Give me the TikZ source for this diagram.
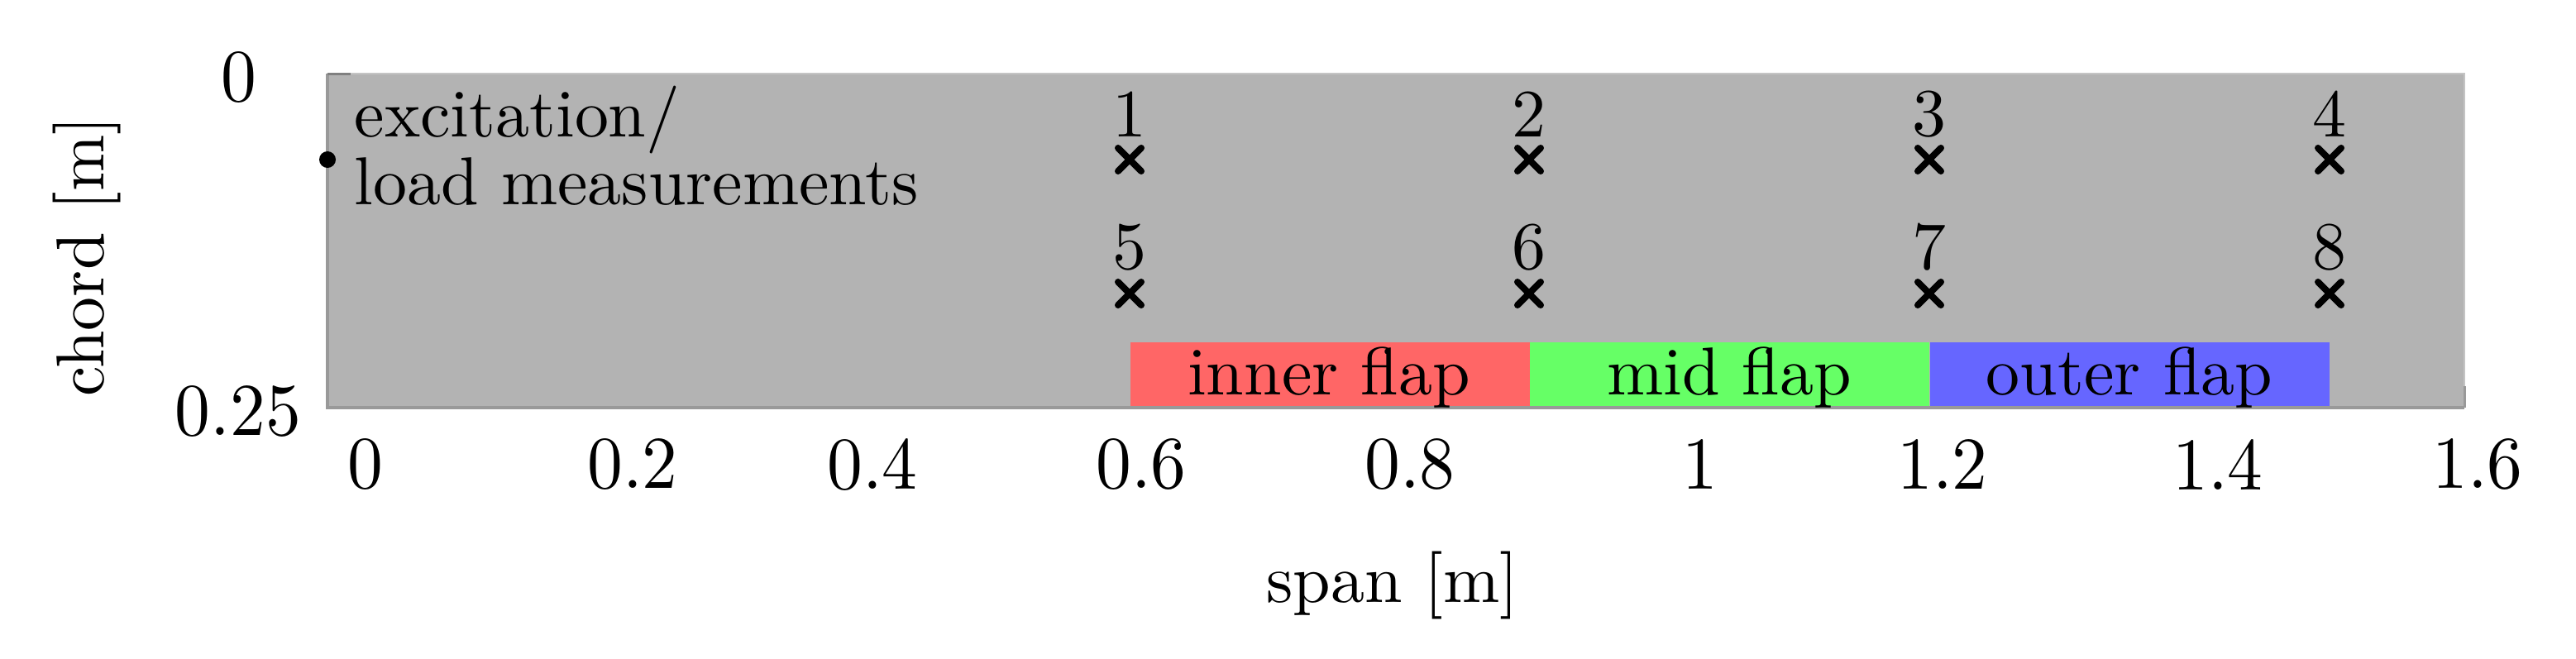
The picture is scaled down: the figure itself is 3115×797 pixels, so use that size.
\documentclass[tikz,border=0pt]{standalone}
\usepackage{fontspec}
\setmainfont{lmroman10-regular.otf}
\usepackage{graphicx}
\usetikzlibrary{shapes.misc}
\newcommand\cnd[1]{\scalebox{1}[1]{#1}}
\newcommand\cndt[1]{\scalebox{0.95}[1]{#1}}
\definecolor{wing}{HTML}{B3B3B3}
\definecolor{wingedge}{HTML}{999999}
\definecolor{wingedgel}{HTML}{C4C4C4}
\definecolor{flapred}{HTML}{FF6666}
\definecolor{flapgreen}{HTML}{66FF66}
\definecolor{flapblue}{HTML}{6666FF}
\begin{document}
\begin{tikzpicture}[x=0.01cm,y=-0.01cm,
  lab/.style={font=\fontsize{23.3}{23.3}\selectfont, inner sep=0pt},
  ticklab/.style={font=\fontsize{25.6}{25.6}\selectfont, inner sep=0pt},
  sensor/.style={cross out, draw=black, line width=0.08cm, line cap=round, minimum size=0.2cm, inner sep=0pt},
  flapbox/.style={inner sep=0pt, minimum width=4.83cm, minimum height=0.8cm, anchor=north west}]
\useasboundingbox[fill=white] (0,0) rectangle (3115,797);
% wing planform
\fill[wing] (396,89) rectangle (2980,493);
\draw[wingedgel, line width=0.02cm] (396,89) -- (2980,89) -- (2980,493);
% flaps
\node[flapbox, fill=flapred] (fi) at (1366,413) {};
\node[flapbox, fill=flapgreen] (fm) at (1849,413) {};
\node[flapbox, fill=flapblue] (fo) at (2333,413) {};
\draw[wingedge, line width=0.04cm] (396,89) -- (396,493) -- (2980,493);
\draw[gray, line width=0.03cm] (396,89) -- (424,89);
\draw[wingedge, line width=0.03cm] (2980,467) -- (2980,493);
% flap labels
\node[lab, anchor=base] (li) at (1607,477) {\cnd{inner flap}};
\node[lab, anchor=base] (lm) at (2091,477) {\cnd{mid flap}};
\node[lab, anchor=base] (lo) at (2575,477) {\cnd{outer flap}};
% excitation point
\node[circle, fill=black, inner sep=0pt, minimum size=0.2cm] (exc) at (396,193) {};
\node[lab, anchor=base west] (ex1) at (428,165) {\cnd{excitation/}};
\node[lab, anchor=base west] (ex2) at (428,247) {\cnd{load measurements}};
% sensors
\foreach \n/\xx in {1/1366,2/1849,3/2333,4/2817}{
  \node[sensor] (s\n) at (\xx,193) {};
  \node[lab] (n\n) at (\xx,138) {\cnd{\n}};
}
\foreach \n/\xx in {5/1366,6/1849,7/2333,8/2817}{
  \node[sensor] (s\n) at (\xx,355) {};
  \node[lab] (n\n) at (\xx,299) {\cnd{\n}};
}
% x tick labels
\foreach \t/\xx [count=\i] in {0/442,0.2/765,0.4/1055,0.6/1380,0.8/1705,1/2056,1.2/2349,1.4/2682,1.6/2996}{
  \node[ticklab] (xt\i) at (\xx,562) {\cndt{\t}};
}
% y tick labels
\node[ticklab] (yt1) at (289,94) {\cndt{0}};
\node[ticklab] (yt2) at (288,498) {\cndt{0.25}};
% axis labels
\node[lab, anchor=base] (xl) at (1684,728) {\cnd{span [m]}};
\node[lab, anchor=base, rotate=90] (yl) at (125,310) {\cnd{chord [m]}};
\end{tikzpicture}
\end{document}
